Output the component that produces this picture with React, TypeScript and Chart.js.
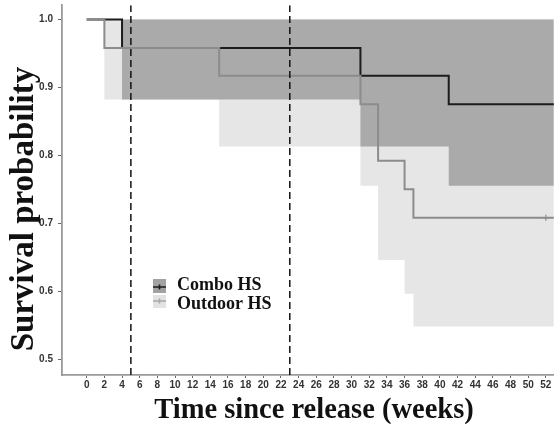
import { useEffect, useRef } from "react";
import { Chart, registerables } from "chart.js";

Chart.register(...registerables);

// ---- data ----
const comboTimes = [0, 4, 31, 41, 53];
const comboSurv = [1.0, 0.958, 0.917, 0.875, 0.875];
const comboUpper = [1.0, 1.0, 1.0, 1.0, 1.0];
const comboLower = [1.0, 0.882, 0.813, 0.755, 0.755];

const outdoorTimes = [0, 2, 15, 31, 33, 36, 37, 53];
const outdoorSurv = [1.0, 0.958, 0.917, 0.875, 0.792, 0.75, 0.708, 0.708];
const outdoorUpper = [1.0, 1.0, 1.0, 1.0, 1.0, 1.0, 1.0, 1.0];
const outdoorLower = [1.0, 0.882, 0.813, 0.755, 0.646, 0.596, 0.548, 0.548];
const outdoorCensorTimes = [52];
const outdoorCensorSurv = [0.708];

const releaseMarks = [5, 23];

const xTickValues = [0, 2, 4, 6, 8, 10, 12, 14, 16, 18, 20, 22, 24, 26, 28, 30, 32, 34, 36, 38, 40, 42, 44, 46, 48, 50, 52];
const yTickValues = [0.5, 0.6, 0.7, 0.8, 0.9, 1.0];

const seriesNames = ["Combo HS", "Outdoor HS"];
const xTitle = "Time since release (weeks)";
const yTitle = "Survival probability";

const X_MIN = -2.8;
const X_MAX = 52.9;
const Y_MIN = 0.4765;
const Y_MAX = 1.021;

const pts = (xs: number[], ys: number[]) => xs.map((x, i) => ({ x, y: ys[i] }));

const SERIF = '"Liberation Serif", "Times New Roman", serif';
const SANS = '"Liberation Sans", Arial, sans-serif';

const decorPlugin = {
  id: "decor",
  afterDraw(chart: any) {
    const ctx = chart.ctx as CanvasRenderingContext2D;
    ctx.save();
    // x title
    ctx.fillStyle = "#111";
    ctx.font = `bold 28.5px ${SERIF}`;
    ctx.textAlign = "center";
    ctx.textBaseline = "alphabetic";
    ctx.fillText(xTitle, 314, 418);
    // y title
    ctx.save();
    ctx.translate(32.5, 209);
    ctx.rotate(-Math.PI / 2);
    ctx.font = `bold 33px ${SERIF}`;
    ctx.fillText(yTitle, 0, 0);
    ctx.restore();
    // legend
    const items = [
      { name: seriesNames[0], fill: "#a2a2a2", line: "#1c1c1c", top: 279, h: 14, ly: 287, base: 289.5 },
      { name: seriesNames[1], fill: "#e3e3e3", line: "#a8a8a8", top: 295, h: 13, ly: 301, base: 308.5 },
    ];
    for (const it of items) {
      ctx.fillStyle = it.fill;
      ctx.fillRect(153, it.top, 13, it.h);
      ctx.strokeStyle = it.line;
      ctx.lineWidth = 1.6;
      ctx.beginPath();
      ctx.moveTo(153, it.ly);
      ctx.lineTo(166, it.ly);
      ctx.moveTo(159.5, it.ly - 2.5);
      ctx.lineTo(159.5, it.ly + 2.5);
      ctx.stroke();
      ctx.fillStyle = "#111";
      ctx.font = `bold 18px ${SERIF}`;
      ctx.textAlign = "left";
      ctx.fillText(it.name, 177, it.base);
    }
    ctx.restore();
  },
};

export default function App() {
  const ref = useRef<HTMLCanvasElement>(null);
  useEffect(() => {
    const none = "rgba(0,0,0,0)";
    const bandCommon = { borderColor: none, borderWidth: 0, pointRadius: 0, stepped: true as const };
    const datasets: any[] = [
      { label: "outdoorLower", data: pts(outdoorTimes, outdoorLower), ...bandCommon, fill: false, order: 6 },
      { label: "outdoorUpper", data: pts(outdoorTimes, outdoorUpper), ...bandCommon, fill: 0, backgroundColor: "#e6e6e6", order: 5 },
      { label: "comboLower", data: pts(comboTimes, comboLower), ...bandCommon, fill: false, order: 4 },
      { label: "comboUpper", data: pts(comboTimes, comboUpper), ...bandCommon, fill: 2, backgroundColor: "#aaaaaa", order: 3 },
      { label: seriesNames[0], data: pts(comboTimes, comboSurv), borderColor: "#1c1c1c", borderWidth: 2, pointRadius: 0, stepped: true, fill: false, order: 2 },
      { label: seriesNames[1], data: pts(outdoorTimes, outdoorSurv), borderColor: "#8c8c8c", borderWidth: 2, pointRadius: 0, stepped: true, fill: false, order: 1 },
      { label: "censor", data: pts(outdoorCensorTimes, outdoorCensorSurv), showLine: false, pointStyle: "cross", pointRadius: 3, borderColor: "#8c8c8c", borderWidth: 1.2, order: 1 },
      ...releaseMarks.map((m) => ({
        label: "release" + m,
        data: [{ x: m, y: Y_MIN }, { x: m, y: Y_MAX }],
        borderColor: "#111",
        borderWidth: 1.5,
        borderDash: [7, 4],
        pointRadius: 0,
        fill: false,
        order: 0,
      })),
    ];
    const chart = new Chart(ref.current!, {
      type: "line",
      data: { datasets },
      plugins: [decorPlugin],
      options: {
        animation: false,
        responsive: false,
        events: [],
        layout: { padding: { top: 3, right: 0, left: 0, bottom: 0 } },
        plugins: { legend: { display: false }, tooltip: { enabled: false }, title: { display: false } },
        scales: {
          x: {
            type: "linear",
            min: X_MIN,
            max: X_MAX,
            afterBuildTicks: (s: any) => { s.ticks = xTickValues.map((value) => ({ value })); },
            afterFit: (s: any) => { s.height = 50; s.paddingLeft = 0; s.paddingRight = 0; },
            ticks: {
              autoSkip: false,
              maxRotation: 0,
              padding: 1,
              color: "#333",
              font: { family: SANS, size: 10, weight: "bold" },
              callback: (v: any) => String(v),
            },
            grid: { display: true, drawOnChartArea: false, drawTicks: true, tickLength: 3, color: "#666", lineWidth: 1 },
            border: { display: true, color: "#9a9a9a", width: 1.8 },
          },
          y: {
            type: "linear",
            min: Y_MIN,
            max: Y_MAX,
            afterBuildTicks: (s: any) => { s.ticks = yTickValues.map((value) => ({ value })); },
            afterFit: (s: any) => { s.width = 62; s.paddingTop = 0; s.paddingBottom = 0; },
            ticks: {
              padding: 5,
              color: "#333",
              font: { family: SANS, size: 10, weight: "bold" },
              callback: (v: any) => Number(v).toFixed(1),
            },
            grid: { display: true, drawOnChartArea: false, drawTicks: true, tickLength: 4, color: "#666", lineWidth: 1 },
            border: { display: true, color: "#9a9a9a", width: 1.8 },
          },
        },
      } as any,
    });
    return () => chart.destroy();
  }, []);
  return (
    <div style={{ position: "fixed", left: 0, top: 0, width: 559, height: 425, background: "#fff" }}>
      <canvas ref={ref} width={559} height={425} style={{ display: "block", width: 559, height: 425 }} />
    </div>
  );
}
